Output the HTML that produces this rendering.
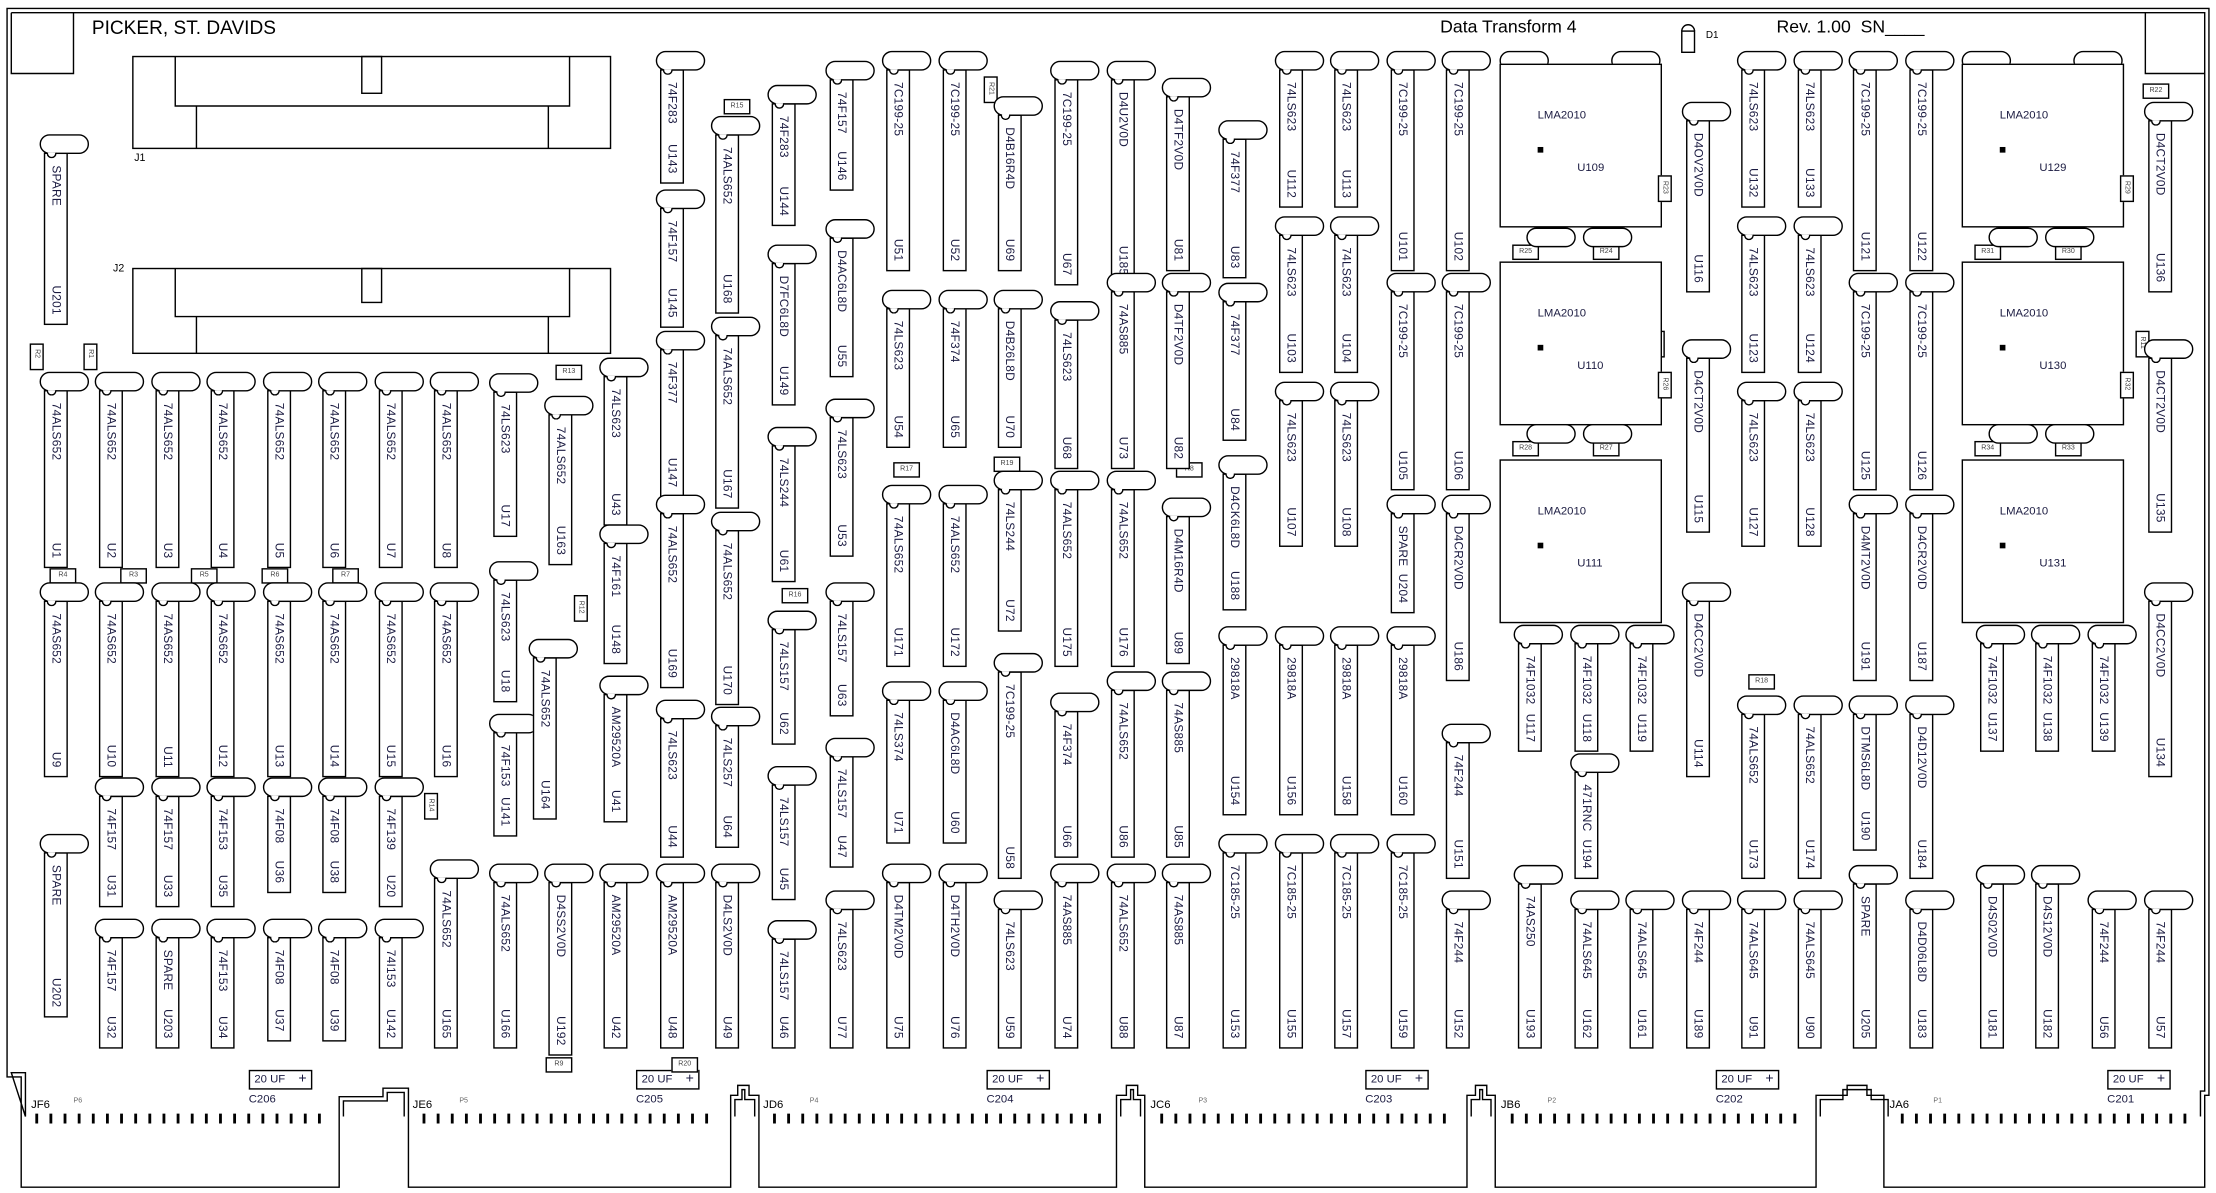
<!DOCTYPE html>
<html><head><meta charset="utf-8"><style>
html,body{margin:0;padding:0;background:#fff;overflow:hidden}
#w{position:absolute;left:0;top:0;width:1568px;height:844px;transform:scale(1.41327);transform-origin:0 0;font-family:"Liberation Sans",sans-serif;color:#1a1a40}
.c{position:absolute;width:15px;margin-left:3px;margin-top:13px;border:1px solid #000;background:#fff}
.c::before{content:"";position:absolute;left:-4px;top:-14px;width:33px;height:12px;border:1px solid #000;border-radius:7px;background:#fff}
.c::after{content:"";position:absolute;left:1px;top:-1px;width:5px;height:3px;border:1px solid #000;border-top:none;border-radius:0 0 4px 4px;background:#fff}
.c i,.c b{position:absolute;left:0;width:15px;writing-mode:vertical-rl;font-style:normal;font-weight:normal;font-size:8.4px;line-height:15px;letter-spacing:.2px;white-space:nowrap}
.c i{top:8px}.c b{bottom:6px}
.r{position:absolute;width:17px;height:9px;border:1px solid #000;font-size:5px;line-height:9px;text-align:center;color:#444;background:#fff}
.rv{position:absolute;width:8px;height:17px;border:1px solid #000;font-size:5px;color:#444;background:#fff}
.rv span{display:block;writing-mode:vertical-rl;line-height:8px;margin-top:3px}
.t{position:absolute;white-space:nowrap}
.p{position:absolute;width:33px;height:12px;border:1px solid #000;border-radius:7px;background:#fff}
.m{position:absolute;width:113px;height:114px;border:1px solid #000;background:#fff;font-size:8px}
.m span{position:absolute}
.m .d{width:4px;height:4px;background:#000;left:26px;top:58px}
.cap{position:absolute;font-size:8px;line-height:12px;padding-left:3px;box-sizing:border-box;width:45px;height:14px;border:1px solid #000;background:#fff}
.cap s{text-decoration:none;position:absolute;right:3px;top:0;font-size:10px}
.cl{position:absolute;font-size:8px}
</style></head><body><div id="w">
<svg width="1568" height="844" style="position:absolute;left:0;top:0" fill="none" stroke="#000" stroke-width="1">
<path d="M5,6 H1563 V775 H1560 V840 H1333 V775 H1321 V768 H1307 V775 H1285 V840 H1058 V775 H1052 V768 H1044 V775 H1038 V840 H810 V775 H805 V768 H797 V775 H790 V840 H537 V775 H530 V768 H522 V775 H517 V840 H289 V770 H271 V776 H240 V840 H15 V762 H5 Z"/>
<path d="M8,9 H1560 V772 H1557 V790 M1336,790 V778 H1324 V771 H1304 V778 H1288 V790 M1055,790 V778 H1049 V771 H1047 V778 H1041 V790 M807,790 V778 H802 V771 H800 V778 H793 V790 M534,790 V778 H527 V771 H525 V778 H520 V790 M286,790 V773 H274 V779 H243 V790 M18,790 V759 H8 Z"/>
<path d="M8,9 V52 H52 V9 M1518,9 V52 H1560"/>
<rect x="94" y="40" width="338" height="65"/><path d="M124,40 V75 H403 V40 M139,75 V105 M388,75 V105"/><rect x="256" y="40" width="14" height="26"/>
<rect x="94" y="190" width="338" height="60"/><path d="M124,190 V224 H403 V190 M139,224 V250 M388,224 V250"/><rect x="256" y="190" width="14" height="24"/>
<rect x="1190" y="22" width="9" height="15"/><path d="M1190,22 A4.5,4.5 0 0 1 1199,22"/>
<g stroke-width="2">
<path d="M26,788 v7 M36,788 v7 M46,788 v7 M56,788 v7 M66,788 v7 M76,788 v7 M86,788 v7 M96,788 v7 M106,788 v7 M116,788 v7 M126,788 v7 M136,788 v7 M146,788 v7 M156,788 v7 M166,788 v7 M176,788 v7 M186,788 v7 M196,788 v7 M206,788 v7 M216,788 v7 M226,788 v7"/>
<path d="M300,788 v7 M310,788 v7 M320,788 v7 M330,788 v7 M340,788 v7 M350,788 v7 M360,788 v7 M370,788 v7 M380,788 v7 M390,788 v7 M400,788 v7 M410,788 v7 M420,788 v7 M430,788 v7 M440,788 v7 M450,788 v7 M460,788 v7 M470,788 v7 M480,788 v7 M490,788 v7 M500,788 v7"/>
<path d="M548,788 v7 M558,788 v7 M568,788 v7 M578,788 v7 M588,788 v7 M598,788 v7 M608,788 v7 M618,788 v7 M628,788 v7 M638,788 v7 M648,788 v7 M658,788 v7 M668,788 v7 M678,788 v7 M688,788 v7 M698,788 v7 M708,788 v7 M718,788 v7 M728,788 v7 M738,788 v7 M748,788 v7 M758,788 v7 M768,788 v7 M778,788 v7"/>
<path d="M822,788 v7 M832,788 v7 M842,788 v7 M852,788 v7 M862,788 v7 M872,788 v7 M882,788 v7 M892,788 v7 M902,788 v7 M912,788 v7 M922,788 v7 M932,788 v7 M942,788 v7 M952,788 v7 M962,788 v7 M972,788 v7 M982,788 v7 M992,788 v7 M1002,788 v7 M1012,788 v7 M1022,788 v7"/>
<path d="M1070,788 v7 M1080,788 v7 M1090,788 v7 M1100,788 v7 M1110,788 v7 M1120,788 v7 M1130,788 v7 M1140,788 v7 M1150,788 v7 M1160,788 v7 M1170,788 v7 M1180,788 v7 M1190,788 v7 M1200,788 v7 M1210,788 v7 M1220,788 v7 M1230,788 v7 M1240,788 v7 M1250,788 v7 M1260,788 v7 M1270,788 v7"/>
<path d="M1346,788 v7 M1356,788 v7 M1366,788 v7 M1376,788 v7 M1386,788 v7 M1396,788 v7 M1406,788 v7 M1416,788 v7 M1426,788 v7 M1436,788 v7 M1446,788 v7 M1456,788 v7 M1466,788 v7 M1476,788 v7 M1486,788 v7 M1496,788 v7 M1506,788 v7 M1516,788 v7 M1526,788 v7 M1536,788 v7 M1546,788 v7"/>
</g></svg>
<div class="t" style="left:65px;top:12px;font-size:13.5px;color:#000">PICKER, ST. DAVIDS</div>
<div class="t" style="left:1019px;top:12px;font-size:12.5px;color:#000">Data Transform 4</div>
<div class="t" style="left:1257px;top:12px;font-size:12.5px;color:#000">Rev. 1.00&nbsp; SN____</div>
<div class="t" style="left:1207px;top:22px;font-size:7px;color:#000">D1</div>
<div class="t" style="left:95px;top:107px;font-size:7.5px;color:#000">J1</div>
<div class="t" style="left:80px;top:185px;font-size:7.5px;color:#000">J2</div>
<div class="t" style="left:22px;top:777px;font-size:8px;color:#000">JF6</div><div class="t" style="left:52px;top:776px;font-size:5px;color:#666">P6</div>
<div class="t" style="left:292px;top:777px;font-size:8px;color:#000">JE6</div><div class="t" style="left:325px;top:776px;font-size:5px;color:#666">P5</div>
<div class="t" style="left:540px;top:777px;font-size:8px;color:#000">JD6</div><div class="t" style="left:573px;top:776px;font-size:5px;color:#666">P4</div>
<div class="t" style="left:814px;top:777px;font-size:8px;color:#000">JC6</div><div class="t" style="left:848px;top:776px;font-size:5px;color:#666">P3</div>
<div class="t" style="left:1062px;top:777px;font-size:8px;color:#000">JB6</div><div class="t" style="left:1095px;top:776px;font-size:5px;color:#666">P2</div>
<div class="t" style="left:1337px;top:777px;font-size:8px;color:#000">JA6</div><div class="t" style="left:1368px;top:776px;font-size:5px;color:#666">P1</div>

<div class="cap" style="left:176px;top:757px">20 UF<s>+</s></div><div class="cl" style="left:176px;top:773px">C206</div>
<div class="cap" style="left:450px;top:757px">20 UF<s>+</s></div><div class="cl" style="left:450px;top:773px">C205</div>
<div class="cap" style="left:698px;top:757px">20 UF<s>+</s></div><div class="cl" style="left:698px;top:773px">C204</div>
<div class="cap" style="left:966px;top:757px">20 UF<s>+</s></div><div class="cl" style="left:966px;top:773px">C203</div>
<div class="cap" style="left:1214px;top:757px">20 UF<s>+</s></div><div class="cl" style="left:1214px;top:773px">C202</div>
<div class="cap" style="left:1491px;top:757px">20 UF<s>+</s></div><div class="cl" style="left:1491px;top:773px">C201</div>

<div class="rv" style="left:21px;top:243px"><span>R2</span></div>
<div class="rv" style="left:59px;top:243px"><span>R1</span></div>
<div class="r" style="left:35px;top:402px">R4</div>
<div class="r" style="left:85px;top:402px">R3</div>
<div class="r" style="left:135px;top:402px">R5</div>
<div class="r" style="left:185px;top:402px">R6</div>
<div class="r" style="left:235px;top:402px">R7</div>
<div class="rv" style="left:300px;top:561px"><span>R14</span></div>
<div class="r" style="left:393px;top:258px">R13</div>
<div class="rv" style="left:406px;top:421px"><span>R12</span></div>
<div class="r" style="left:386px;top:748px">R9</div>
<div class="r" style="left:475px;top:748px">R20</div>
<div class="r" style="left:512px;top:70px">R15</div>
<div class="r" style="left:553px;top:416px">R16</div>
<div class="r" style="left:632px;top:327px">R17</div>
<div class="rv" style="left:696px;top:54px"><span>R21</span></div>
<div class="r" style="left:703px;top:323px">R19</div>
<div class="r" style="left:832px;top:327px">R8</div>
<div class="r" style="left:1237px;top:477px">R18</div>
<div class="r" style="left:1516px;top:59px">R22</div>
<div class="r" style="left:1070px;top:173px">R25</div>
<div class="r" style="left:1127px;top:173px">R24</div>
<div class="r" style="left:1070px;top:312px">R28</div>
<div class="r" style="left:1127px;top:312px">R27</div>
<div class="r" style="left:1397px;top:173px">R31</div>
<div class="r" style="left:1454px;top:173px">R30</div>
<div class="r" style="left:1397px;top:312px">R34</div>
<div class="r" style="left:1454px;top:312px">R33</div>
<div class="rv" style="left:1168px;top:234px"><span>R10</span></div>
<div class="rv" style="left:1511px;top:234px"><span>R11</span></div>

<div class="p" style="left:1061px;top:36px"></div><div class="p" style="left:1140px;top:36px"></div>
<div class="m" style="left:1061px;top:45px"><span style="left:26px;top:31px">LMA2010</span><span class="d"></span><span style="left:54px;top:68px">U109</span></div>
<div class="p" style="left:1080px;top:161px"></div><div class="p" style="left:1120px;top:161px"></div>
<div class="m" style="left:1061px;top:185px"><span style="left:26px;top:31px">LMA2010</span><span class="d"></span><span style="left:54px;top:68px">U110</span></div>
<div class="p" style="left:1080px;top:300px"></div><div class="p" style="left:1120px;top:300px"></div>
<div class="m" style="left:1061px;top:325px"><span style="left:26px;top:31px">LMA2010</span><span class="d"></span><span style="left:54px;top:68px">U111</span></div>
<div class="p" style="left:1388px;top:36px"></div><div class="p" style="left:1467px;top:36px"></div>
<div class="m" style="left:1388px;top:45px"><span style="left:26px;top:31px">LMA2010</span><span class="d"></span><span style="left:54px;top:68px">U129</span></div>
<div class="p" style="left:1407px;top:161px"></div><div class="p" style="left:1447px;top:161px"></div>
<div class="m" style="left:1388px;top:185px"><span style="left:26px;top:31px">LMA2010</span><span class="d"></span><span style="left:54px;top:68px">U130</span></div>
<div class="p" style="left:1407px;top:300px"></div><div class="p" style="left:1447px;top:300px"></div>
<div class="m" style="left:1388px;top:325px"><span style="left:26px;top:31px">LMA2010</span><span class="d"></span><span style="left:54px;top:68px">U131</span></div>
<div class="rv" style="left:1173px;top:124px"><span>R23</span></div>
<div class="rv" style="left:1173px;top:263px"><span>R26</span></div>
<div class="rv" style="left:1500px;top:124px"><span>R29</span></div>
<div class="rv" style="left:1500px;top:263px"><span>R32</span></div>

<div class="c" style="left:28px;top:95px;height:120px"><i>SPARE</i><b>U201</b></div>
<div class="c" style="left:28px;top:263px;height:124px"><i>74ALS652</i><b>U1</b></div>
<div class="c" style="left:67px;top:263px;height:124px"><i>74ALS652</i><b>U2</b></div>
<div class="c" style="left:107px;top:263px;height:124px"><i>74ALS652</i><b>U3</b></div>
<div class="c" style="left:146px;top:263px;height:124px"><i>74ALS652</i><b>U4</b></div>
<div class="c" style="left:186px;top:263px;height:124px"><i>74ALS652</i><b>U5</b></div>
<div class="c" style="left:225px;top:263px;height:124px"><i>74ALS652</i><b>U6</b></div>
<div class="c" style="left:265px;top:263px;height:124px"><i>74ALS652</i><b>U7</b></div>
<div class="c" style="left:304px;top:263px;height:124px"><i>74ALS652</i><b>U8</b></div>
<div class="c" style="left:28px;top:412px;height:123px"><i>74AS652</i><b>U9</b></div>
<div class="c" style="left:67px;top:412px;height:123px"><i>74AS652</i><b>U10</b></div>
<div class="c" style="left:107px;top:412px;height:123px"><i>74AS652</i><b>U11</b></div>
<div class="c" style="left:146px;top:412px;height:123px"><i>74AS652</i><b>U12</b></div>
<div class="c" style="left:186px;top:412px;height:123px"><i>74AS652</i><b>U13</b></div>
<div class="c" style="left:225px;top:412px;height:123px"><i>74AS652</i><b>U14</b></div>
<div class="c" style="left:265px;top:412px;height:123px"><i>74AS652</i><b>U15</b></div>
<div class="c" style="left:304px;top:412px;height:123px"><i>74AS652</i><b>U16</b></div>
<div class="c" style="left:28px;top:590px;height:115px"><i>SPARE</i><b>U202</b></div>
<div class="c" style="left:67px;top:550px;height:77px"><i>74F157</i><b>U31</b></div>
<div class="c" style="left:107px;top:550px;height:77px"><i>74F157</i><b>U33</b></div>
<div class="c" style="left:146px;top:550px;height:77px"><i>74F153</i><b>U35</b></div>
<div class="c" style="left:186px;top:550px;height:67px"><i>74F08</i><b>U36</b></div>
<div class="c" style="left:225px;top:550px;height:67px"><i>74F08</i><b>U38</b></div>
<div class="c" style="left:265px;top:550px;height:77px"><i>74F139</i><b>U20</b></div>
<div class="c" style="left:67px;top:650px;height:77px"><i>74F157</i><b>U32</b></div>
<div class="c" style="left:107px;top:650px;height:77px"><i>SPARE</i><b>U203</b></div>
<div class="c" style="left:146px;top:650px;height:77px"><i>74F153</i><b>U34</b></div>
<div class="c" style="left:186px;top:650px;height:72px"><i>74F08</i><b>U37</b></div>
<div class="c" style="left:225px;top:650px;height:72px"><i>74F08</i><b>U39</b></div>
<div class="c" style="left:265px;top:650px;height:77px"><i>74I153</i><b>U142</b></div>
<div class="c" style="left:304px;top:608px;height:119px"><i>74ALS652</i><b>U165</b></div>
<div class="c" style="left:346px;top:264px;height:101px"><i>74LS623</i><b>U17</b></div>
<div class="c" style="left:346px;top:397px;height:85px"><i>74LS623</i><b>U18</b></div>
<div class="c" style="left:346px;top:505px;height:72px"><i>74F153</i><b>U141</b></div>
<div class="c" style="left:346px;top:611px;height:116px"><i>74ALS652</i><b>U166</b></div>
<div class="c" style="left:385px;top:280px;height:105px"><i>74ALS652</i><b>U163</b></div>
<div class="c" style="left:374px;top:452px;height:113px"><i>74ALS652</i><b>U164</b></div>
<div class="c" style="left:385px;top:611px;height:121px"><i>D4SS2V0D</i><b>U192</b></div>
<div class="c" style="left:424px;top:253px;height:104px"><i>74LS623</i><b>U43</b></div>
<div class="c" style="left:424px;top:371px;height:84px"><i>74F161</i><b>U148</b></div>
<div class="c" style="left:424px;top:478px;height:89px"><i>AM29520A</i><b>U41</b></div>
<div class="c" style="left:424px;top:611px;height:116px"><i>AM29520A</i><b>U42</b></div>
<div class="c" style="left:464px;top:36px;height:79px"><i>74F283</i><b>U143</b></div>
<div class="c" style="left:464px;top:134px;height:83px"><i>74F157</i><b>U145</b></div>
<div class="c" style="left:464px;top:234px;height:103px"><i>74F377</i><b>U147</b></div>
<div class="c" style="left:464px;top:350px;height:122px"><i>74ALS652</i><b>U169</b></div>
<div class="c" style="left:464px;top:495px;height:97px"><i>74LS623</i><b>U44</b></div>
<div class="c" style="left:464px;top:611px;height:116px"><i>AM29520A</i><b>U48</b></div>
<div class="c" style="left:503px;top:82px;height:125px"><i>74ALS652</i><b>U168</b></div>
<div class="c" style="left:503px;top:224px;height:121px"><i>74ALS652</i><b>U167</b></div>
<div class="c" style="left:503px;top:362px;height:122px"><i>74ALS652</i><b>U170</b></div>
<div class="c" style="left:503px;top:500px;height:85px"><i>74LS257</i><b>U64</b></div>
<div class="c" style="left:503px;top:611px;height:116px"><i>D4LS2V0D</i><b>U49</b></div>
<div class="c" style="left:543px;top:60px;height:85px"><i>74F283</i><b>U144</b></div>
<div class="c" style="left:543px;top:173px;height:99px"><i>D7FC6L8D</i><b>U149</b></div>
<div class="c" style="left:543px;top:302px;height:95px"><i>74LS244</i><b>U61</b></div>
<div class="c" style="left:543px;top:432px;height:80px"><i>74LS157</i><b>U62</b></div>
<div class="c" style="left:543px;top:542px;height:80px"><i>74LS157</i><b>U45</b></div>
<div class="c" style="left:543px;top:651px;height:76px"><i>74LS157</i><b>U46</b></div>
<div class="c" style="left:584px;top:43px;height:77px"><i>74F157</i><b>U146</b></div>
<div class="c" style="left:584px;top:155px;height:97px"><i>D4AC6L8D</i><b>U55</b></div>
<div class="c" style="left:584px;top:282px;height:97px"><i>74LS623</i><b>U53</b></div>
<div class="c" style="left:584px;top:412px;height:80px"><i>74LS157</i><b>U63</b></div>
<div class="c" style="left:584px;top:522px;height:77px"><i>74LS157</i><b>U47</b></div>
<div class="c" style="left:584px;top:630px;height:97px"><i>74LS623</i><b>U77</b></div>
<div class="c" style="left:624px;top:36px;height:141px"><i>7C199-25</i><b>U51</b></div>
<div class="c" style="left:624px;top:205px;height:97px"><i>74LS623</i><b>U54</b></div>
<div class="c" style="left:624px;top:343px;height:114px"><i>74ALS652</i><b>U171</b></div>
<div class="c" style="left:624px;top:482px;height:100px"><i>74LS374</i><b>U71</b></div>
<div class="c" style="left:624px;top:611px;height:116px"><i>D4TM2V0D</i><b>U75</b></div>
<div class="c" style="left:664px;top:36px;height:141px"><i>7C199-25</i><b>U52</b></div>
<div class="c" style="left:664px;top:205px;height:97px"><i>74F374</i><b>U65</b></div>
<div class="c" style="left:664px;top:343px;height:114px"><i>74ALS652</i><b>U172</b></div>
<div class="c" style="left:664px;top:482px;height:100px"><i>D4AC6L8D</i><b>U60</b></div>
<div class="c" style="left:664px;top:611px;height:116px"><i>D4TH2V0D</i><b>U76</b></div>
<div class="c" style="left:703px;top:68px;height:109px"><i>D4B16R4D</i><b>U69</b></div>
<div class="c" style="left:703px;top:205px;height:97px"><i>D4B26L8D</i><b>U70</b></div>
<div class="c" style="left:703px;top:333px;height:99px"><i>74LS244</i><b>U72</b></div>
<div class="c" style="left:703px;top:462px;height:145px"><i>7C199-25</i><b>U58</b></div>
<div class="c" style="left:703px;top:630px;height:97px"><i>74LS623</i><b>U59</b></div>
<div class="c" style="left:743px;top:43px;height:144px"><i>7C199-25</i><b>U67</b></div>
<div class="c" style="left:743px;top:213px;height:104px"><i>74LS623</i><b>U68</b></div>
<div class="c" style="left:743px;top:333px;height:124px"><i>74ALS652</i><b>U175</b></div>
<div class="c" style="left:743px;top:490px;height:102px"><i>74F374</i><b>U66</b></div>
<div class="c" style="left:743px;top:611px;height:116px"><i>74AS885</i><b>U74</b></div>
<div class="c" style="left:783px;top:43px;height:144px"><i>D4U2V0D</i><b>U185</b></div>
<div class="c" style="left:783px;top:193px;height:124px"><i>74AS885</i><b>U73</b></div>
<div class="c" style="left:783px;top:333px;height:124px"><i>74ALS652</i><b>U176</b></div>
<div class="c" style="left:783px;top:475px;height:117px"><i>74ALS652</i><b>U86</b></div>
<div class="c" style="left:783px;top:611px;height:116px"><i>74ALS652</i><b>U88</b></div>
<div class="c" style="left:822px;top:55px;height:122px"><i>D4TF2V0D</i><b>U81</b></div>
<div class="c" style="left:822px;top:193px;height:124px"><i>D4TF2V0D</i><b>U82</b></div>
<div class="c" style="left:822px;top:352px;height:103px"><i>D4M16R4D</i><b>U89</b></div>
<div class="c" style="left:822px;top:475px;height:117px"><i>74AS885</i><b>U85</b></div>
<div class="c" style="left:822px;top:611px;height:116px"><i>74AS885</i><b>U87</b></div>
<div class="c" style="left:862px;top:85px;height:97px"><i>74F377</i><b>U83</b></div>
<div class="c" style="left:862px;top:200px;height:97px"><i>74F377</i><b>U84</b></div>
<div class="c" style="left:862px;top:322px;height:95px"><i>D4CK6L8D</i><b>U188</b></div>
<div class="c" style="left:862px;top:443px;height:119px"><i>29818A</i><b>U154</b></div>
<div class="c" style="left:862px;top:590px;height:137px"><i>7C185-25</i><b>U153</b></div>
<div class="c" style="left:902px;top:36px;height:96px"><i>74LS623</i><b>U112</b></div>
<div class="c" style="left:902px;top:153px;height:96px"><i>74LS623</i><b>U103</b></div>
<div class="c" style="left:902px;top:270px;height:102px"><i>74LS623</i><b>U107</b></div>
<div class="c" style="left:902px;top:443px;height:119px"><i>29818A</i><b>U156</b></div>
<div class="c" style="left:902px;top:590px;height:137px"><i>7C185-25</i><b>U155</b></div>
<div class="c" style="left:941px;top:36px;height:96px"><i>74LS623</i><b>U113</b></div>
<div class="c" style="left:941px;top:153px;height:96px"><i>74LS623</i><b>U104</b></div>
<div class="c" style="left:941px;top:270px;height:102px"><i>74LS623</i><b>U108</b></div>
<div class="c" style="left:941px;top:443px;height:119px"><i>29818A</i><b>U158</b></div>
<div class="c" style="left:941px;top:590px;height:137px"><i>7C185-25</i><b>U157</b></div>
<div class="c" style="left:981px;top:36px;height:141px"><i>7C199-25</i><b>U101</b></div>
<div class="c" style="left:981px;top:193px;height:139px"><i>7C199-25</i><b>U105</b></div>
<div class="c" style="left:981px;top:350px;height:69px"><i>SPARE</i><b>U204</b></div>
<div class="c" style="left:981px;top:443px;height:119px"><i>29818A</i><b>U160</b></div>
<div class="c" style="left:981px;top:590px;height:137px"><i>7C185-25</i><b>U159</b></div>
<div class="c" style="left:1020px;top:36px;height:141px"><i>7C199-25</i><b>U102</b></div>
<div class="c" style="left:1020px;top:193px;height:139px"><i>7C199-25</i><b>U106</b></div>
<div class="c" style="left:1020px;top:350px;height:117px"><i>D4CR2V0D</i><b>U186</b></div>
<div class="c" style="left:1020px;top:512px;height:95px"><i>74F244</i><b>U151</b></div>
<div class="c" style="left:1020px;top:630px;height:97px"><i>74F244</i><b>U152</b></div>
<div class="c" style="left:1071px;top:442px;height:75px"><i>74F1032</i><b>U117</b></div>
<div class="c" style="left:1071px;top:612px;height:115px"><i>74AS250</i><b>U193</b></div>
<div class="c" style="left:1111px;top:442px;height:75px"><i>74F1032</i><b>U118</b></div>
<div class="c" style="left:1111px;top:533px;height:74px"><i>471RNC</i><b>U194</b></div>
<div class="c" style="left:1111px;top:630px;height:97px"><i>74ALS645</i><b>U162</b></div>
<div class="c" style="left:1150px;top:442px;height:75px"><i>74F1032</i><b>U119</b></div>
<div class="c" style="left:1150px;top:630px;height:97px"><i>74ALS645</i><b>U161</b></div>
<div class="c" style="left:1190px;top:72px;height:120px"><i>D4OV2V0D</i><b>U116</b></div>
<div class="c" style="left:1190px;top:240px;height:122px"><i>D4CT2V0D</i><b>U115</b></div>
<div class="c" style="left:1190px;top:412px;height:123px"><i>D4CC2V0D</i><b>U114</b></div>
<div class="c" style="left:1190px;top:630px;height:97px"><i>74F244</i><b>U189</b></div>
<div class="c" style="left:1229px;top:36px;height:96px"><i>74LS623</i><b>U132</b></div>
<div class="c" style="left:1229px;top:153px;height:96px"><i>74LS623</i><b>U123</b></div>
<div class="c" style="left:1229px;top:270px;height:102px"><i>74LS623</i><b>U127</b></div>
<div class="c" style="left:1229px;top:492px;height:115px"><i>74ALS652</i><b>U173</b></div>
<div class="c" style="left:1229px;top:630px;height:97px"><i>74ALS645</i><b>U91</b></div>
<div class="c" style="left:1269px;top:36px;height:96px"><i>74LS623</i><b>U133</b></div>
<div class="c" style="left:1269px;top:153px;height:96px"><i>74LS623</i><b>U124</b></div>
<div class="c" style="left:1269px;top:270px;height:102px"><i>74LS623</i><b>U128</b></div>
<div class="c" style="left:1269px;top:492px;height:115px"><i>74ALS652</i><b>U174</b></div>
<div class="c" style="left:1269px;top:630px;height:97px"><i>74ALS645</i><b>U90</b></div>
<div class="c" style="left:1308px;top:36px;height:141px"><i>7C199-25</i><b>U121</b></div>
<div class="c" style="left:1308px;top:193px;height:139px"><i>7C199-25</i><b>U125</b></div>
<div class="c" style="left:1308px;top:350px;height:117px"><i>D4MT2V0D</i><b>U191</b></div>
<div class="c" style="left:1308px;top:492px;height:95px"><i>DTMS6L8D</i><b>U190</b></div>
<div class="c" style="left:1308px;top:612px;height:115px"><i>SPARE</i><b>U205</b></div>
<div class="c" style="left:1348px;top:36px;height:141px"><i>7C199-25</i><b>U122</b></div>
<div class="c" style="left:1348px;top:193px;height:139px"><i>7C199-25</i><b>U126</b></div>
<div class="c" style="left:1348px;top:350px;height:117px"><i>D4CR2V0D</i><b>U187</b></div>
<div class="c" style="left:1348px;top:492px;height:115px"><i>D4D12V0D</i><b>U184</b></div>
<div class="c" style="left:1348px;top:630px;height:97px"><i>D4D06L8D</i><b>U183</b></div>
<div class="c" style="left:1398px;top:442px;height:75px"><i>74F1032</i><b>U137</b></div>
<div class="c" style="left:1398px;top:612px;height:115px"><i>D4S02V0D</i><b>U181</b></div>
<div class="c" style="left:1437px;top:442px;height:75px"><i>74F1032</i><b>U138</b></div>
<div class="c" style="left:1437px;top:612px;height:115px"><i>D4S12V0D</i><b>U182</b></div>
<div class="c" style="left:1477px;top:442px;height:75px"><i>74F1032</i><b>U139</b></div>
<div class="c" style="left:1477px;top:630px;height:97px"><i>74F244</i><b>U56</b></div>
<div class="c" style="left:1517px;top:72px;height:120px"><i>D4CT2V0D</i><b>U136</b></div>
<div class="c" style="left:1517px;top:240px;height:122px"><i>D4CT2V0D</i><b>U135</b></div>
<div class="c" style="left:1517px;top:412px;height:123px"><i>D4CC2V0D</i><b>U134</b></div>
<div class="c" style="left:1517px;top:630px;height:97px"><i>74F244</i><b>U57</b></div>
</div></body></html>
